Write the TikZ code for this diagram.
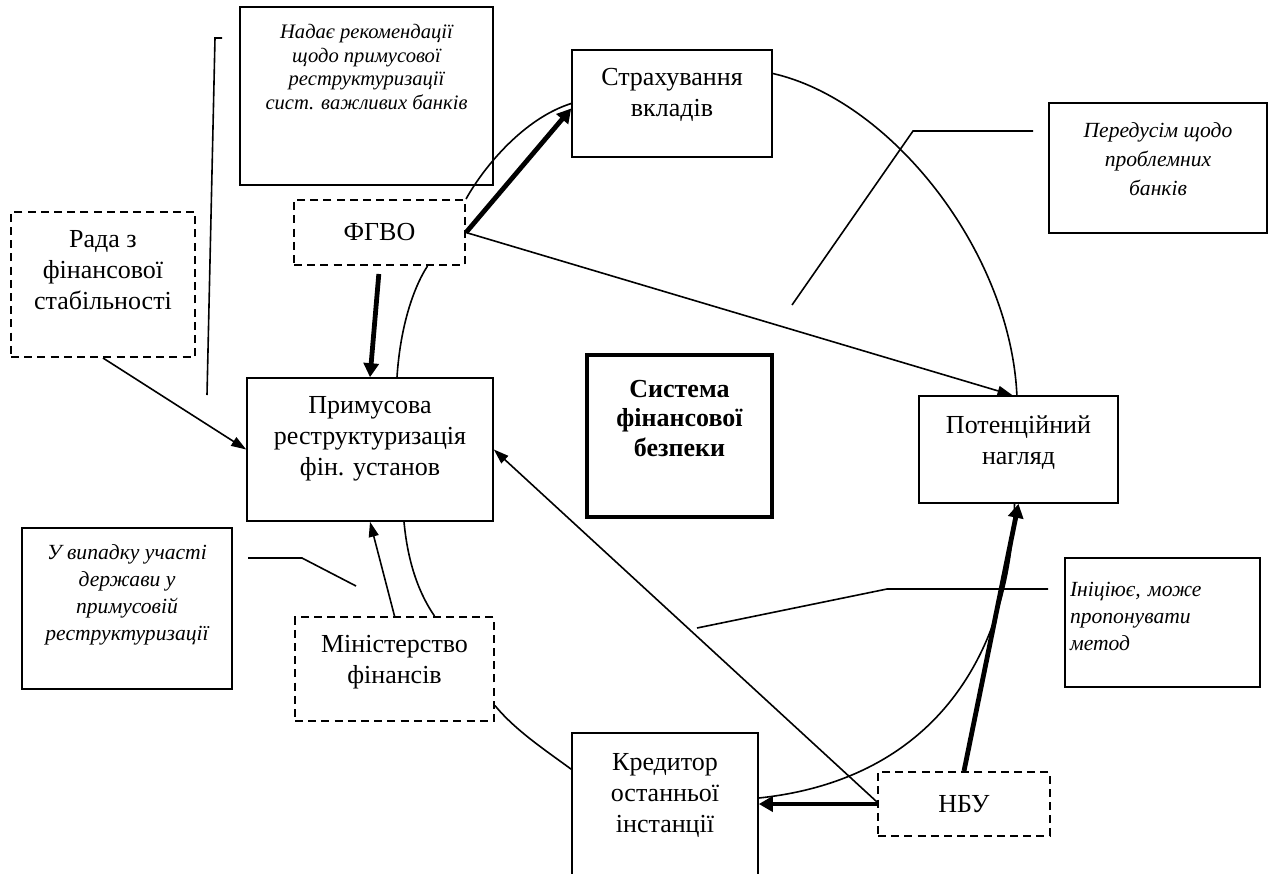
\documentclass[tikz,border=0pt]{standalone}
\usepackage{fontspec}
\setmainfont{Liberation Serif}
\usetikzlibrary{arrows.meta}

\tikzset{
  blk/.style={draw,line width=0.8pt,align=center,inner sep=0pt,
    font=\fontsize{13}{15.5}\selectfont},
  dblk/.style={blk,line width=1pt,dash pattern=on 4pt off 2.6pt},
  memo/.style={blk,font=\itshape\fontsize{10.8}{13.5}\selectfont},
  lift/.style={text height=#1,text depth=0pt},
  link/.style={line width=0.8pt,-{Triangle[length=7.5pt,width=5pt]}},
  flow/.style={line width=2.4pt,-{Triangle[length=7pt,width=7.5pt]}},
  ring/.style={line width=0.8pt},
  lead/.style={line width=0.8pt}
}

\begin{document}
\begin{tikzpicture}[x=0.5pt,y=-0.5pt]
\useasboundingbox (0,0) rectangle (1273,873);
% blocks
\node [name=nadae,memo,lift=13pt,minimum width=126.5pt,minimum height=89pt,
  font=\itshape\fontsize{10.3}{11.7}\selectfont] at (366.5,96)
  {Надає рекомендації\\щодо примусової\\реструктуризації\\сист. важливих банків};
\node [name=strakh,blk,lift=13pt,minimum width=100pt,minimum height=53.5pt] at (672,103.5) {Страхування\\вкладів};
\node [name=pered,memo,lift=27pt,minimum width=109pt,minimum height=65pt,
  font=\itshape\fontsize{10.8}{14.5}\selectfont] at (1158,168) {Передусім щодо\\проблемних\\банків};
\node [name=rada,dblk,lift=24.5pt,minimum width=92pt,minimum height=72.5pt] at (103,284.5) {Рада з\\фінансової\\стабільності};
\node [name=fgvo,dblk,minimum width=85.5pt,minimum height=32.5pt] at (379.5,232.5) {ФГВО};
\node [name=prym,blk,lift=26pt,minimum width=123pt,minimum height=71.5pt] at (370,449.5) {Примусова\\реструктуризація\\фін. установ};
\node [name=syst,blk,line width=2pt,lift=20pt,minimum width=92.5pt,minimum height=81pt,
  font=\bfseries\fontsize{13}{14.75}\selectfont] at (679.5,436) {Система\\фінансової\\безпеки};
\node [name=pot,blk,lift=15pt,minimum width=99.5pt,minimum height=53.5pt] at (1018.5,449.5) {Потенційний\\нагляд};
\node [name=uvyp,memo,lift=31.5pt,minimum width=105pt,minimum height=80.5pt] at (127,608.5) {У випадку участі\\держави у\\примусовій\\реструктуризації};
\node [name=mini,dblk,lift=14pt,minimum width=99.5pt,minimum height=52pt] at (394.5,669) {Міністерство\\фінансів};
\node [name=inic,memo,align=left,text width=92.5pt,text height=0pt,text depth=26.5pt,
  minimum width=97.5pt,minimum height=64.5pt] at (1162.5,622.5) {Ініціює, може\\пропонувати\\метод};
\node [name=kred,blk,lift=23pt,minimum width=93pt,minimum height=76pt] at (665,809) {Кредитор\\останньої\\інстанції};
\node [name=nbu,dblk,minimum width=86pt,minimum height=32pt] at (964,804) {НБУ};
% ring of arcs
\draw [ring] (fgvo.north east) .. controls (485,165) and (525,118) .. (strakh.west);
\draw [ring] ([yshift=15pt]strakh.east) .. controls (890,100) and (1010,250) .. ([xshift=-0.8pt]pot.north);
\draw [ring] ([xshift=-2pt]pot.south) .. controls (1010,660) and (930,780) .. ([yshift=5.5pt]kred.east);
\draw [ring] (mini.-20) .. controls (515,730) and (545,750) .. (kred.157);
\draw [ring] ([xshift=17pt]prym.south) .. controls (408,565) and (420,595) .. ([xshift=20pt]mini.north);
\draw [ring] ([xshift=13.5pt]prym.north) .. controls (400,330) and (412,290) .. ([xshift=24pt]fgvo.south);
% arrows
\draw [flow] (fgvo.east) -- ([yshift=-2.5pt]strakh.west);
\draw [link] (fgvo.east) -- ([xshift=-3pt]pot.north);
\draw [flow,shorten <=4pt] (fgvo.south) -- (prym.north);
\draw [link] (rada.south) -- (prym.west);
\draw [link] (mini.north) -- (prym.south);
\draw [link] ([yshift=1pt]nbu.west) -- (prym.east);
\draw [flow] (nbu.north) -- (pot.south);
\draw [flow] (nbu.west) -- (kred.east |- nbu.west);
% leaders of the notes
\coordinate (n1a) at (222,38); \coordinate (n1b) at (215,38); \coordinate (n1c) at (207,395);
\draw [lead] (n1a) -- (n1b) -- (n1c);
\coordinate (n2a) at (1033,131); \coordinate (n2b) at (913,131); \coordinate (n2c) at (792,305);
\draw [lead] (n2a) -- (n2b) -- (n2c);
\coordinate (n3a) at (1048,589); \coordinate (n3b) at (887,589); \coordinate (n3c) at (697,628);
\draw [lead] (n3a) -- (n3b) -- (n3c);
\coordinate (n4a) at (248,558); \coordinate (n4b) at (302,558); \coordinate (n4c) at (356,586);
\draw [lead] (n4a) -- (n4b) -- (n4c);
\end{tikzpicture}
\end{document}
